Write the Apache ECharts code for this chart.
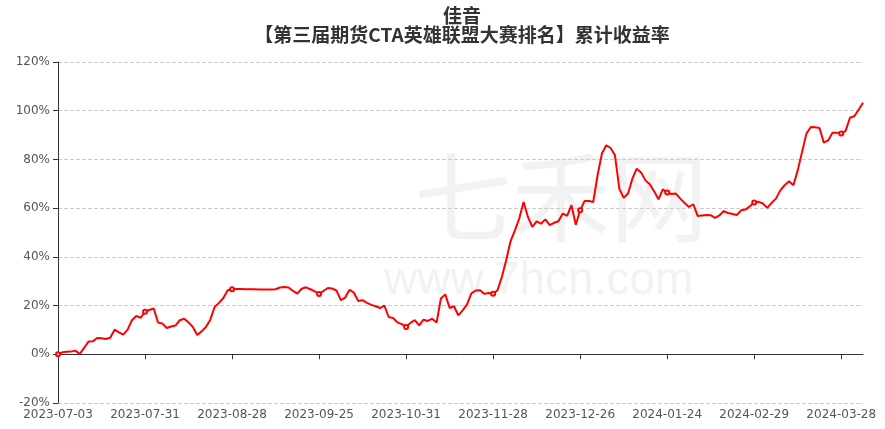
<!DOCTYPE html>
<html>
<head>
<meta charset="utf-8">
<script src="https://cdn.jsdelivr.net/npm/echarts@6/dist/echarts.min.js"></script>
<style>html,body{margin:0;padding:0;background:#fff}#c{width:885px;height:429px}</style>
</head>
<body>
<div id="c"></div>
<script>
var titleText = '佳音\n【第三届期货CTA英雄联盟大赛排名】累计收益率';
var dates = [
'2023-07-03','2023-07-04','2023-07-05','2023-07-06','2023-07-07',
'2023-07-10','2023-07-11','2023-07-12','2023-07-13','2023-07-14',
'2023-07-17','2023-07-18','2023-07-19','2023-07-20','2023-07-21',
'2023-07-24','2023-07-25','2023-07-26','2023-07-27','2023-07-28',
'2023-07-31','2023-08-01','2023-08-02','2023-08-03','2023-08-04',
'2023-08-07','2023-08-08','2023-08-09','2023-08-10','2023-08-11',
'2023-08-14','2023-08-15','2023-08-16','2023-08-17','2023-08-18',
'2023-08-21','2023-08-22','2023-08-23','2023-08-24','2023-08-25',
'2023-08-28','2023-08-29','2023-08-30','2023-08-31','2023-09-01',
'2023-09-04','2023-09-05','2023-09-06','2023-09-07','2023-09-08',
'2023-09-11','2023-09-12','2023-09-13','2023-09-14','2023-09-15',
'2023-09-18','2023-09-19','2023-09-20','2023-09-21','2023-09-22',
'2023-09-25','2023-09-26','2023-09-27','2023-09-28',
'2023-10-09','2023-10-10','2023-10-11','2023-10-12','2023-10-13',
'2023-10-16','2023-10-17','2023-10-18','2023-10-19','2023-10-20',
'2023-10-23','2023-10-24','2023-10-25','2023-10-26','2023-10-27',
'2023-10-30','2023-10-31','2023-11-01','2023-11-02','2023-11-03',
'2023-11-06','2023-11-07','2023-11-08','2023-11-09','2023-11-10',
'2023-11-13','2023-11-14','2023-11-15','2023-11-16','2023-11-17',
'2023-11-20','2023-11-21','2023-11-22','2023-11-23','2023-11-24',
'2023-11-27','2023-11-28','2023-11-29','2023-11-30','2023-12-01',
'2023-12-04','2023-12-05','2023-12-06','2023-12-07','2023-12-08',
'2023-12-11','2023-12-12','2023-12-13','2023-12-14','2023-12-15',
'2023-12-18','2023-12-19','2023-12-20','2023-12-21','2023-12-22',
'2023-12-25','2023-12-26','2023-12-27','2023-12-28','2023-12-29',
'2024-01-02','2024-01-03','2024-01-04','2024-01-05',
'2024-01-08','2024-01-09','2024-01-10','2024-01-11','2024-01-12',
'2024-01-15','2024-01-16','2024-01-17','2024-01-18','2024-01-19',
'2024-01-22','2024-01-23','2024-01-24','2024-01-25','2024-01-26',
'2024-01-29','2024-01-30','2024-01-31','2024-02-01','2024-02-02',
'2024-02-05','2024-02-06','2024-02-07','2024-02-08',
'2024-02-19','2024-02-20','2024-02-21','2024-02-22','2024-02-23',
'2024-02-26','2024-02-27','2024-02-28','2024-02-29','2024-03-01',
'2024-03-04','2024-03-05','2024-03-06','2024-03-07','2024-03-08',
'2024-03-11','2024-03-12','2024-03-13','2024-03-14','2024-03-15',
'2024-03-18','2024-03-19','2024-03-20','2024-03-21','2024-03-22',
'2024-03-25','2024-03-26','2024-03-27','2024-03-28','2024-03-29',
'2024-04-01','2024-04-02','2024-04-03','2024-04-08'
];
var returns = [
0,0.8,1.0,1.1,1.5,0.1,2.6,5.2,5.3,6.7,
6.6,6.3,6.8,10.1,9.0,8.1,10.1,14.0,15.7,15.0,
17.5,18.2,18.8,13.0,12.6,10.8,11.4,11.8,14.0,14.6,
13.1,11.2,7.9,9.4,11.2,14.2,19.4,21.1,23.1,26.3,
26.7,26.8,26.8,26.7,26.7,26.7,26.6,26.6,26.6,26.6,
26.7,27.4,27.6,27.4,26.0,24.9,26.9,27.5,26.7,25.8,
24.8,26.0,27.2,27.0,26.2,22.2,23.3,26.5,25.3,21.9,
22.2,21.1,20.3,19.7,19.0,20.0,15.3,14.9,13.1,12.4,
11.2,12.9,14.0,11.9,14.2,13.7,14.6,13.0,22.9,24.6,
19.0,19.7,16.0,18.0,20.5,25.0,26.2,26.3,24.8,25.2,
24.9,26.3,31.7,38.6,46.4,50.9,55.7,62.5,56.4,52.3,
54.6,53.6,55.4,53.0,54.0,54.6,57.8,56.8,61.2,53.2,
59.1,62.9,62.9,62.5,73.5,82.4,85.8,84.7,81.7,68.0,
64.2,66.0,72.1,76.2,74.6,71.4,69.8,66.9,63.6,67.7,
66.4,65.8,66.0,63.9,62.1,60.5,61.6,56.8,57.0,57.2,
57.1,56.0,57.0,58.8,58.0,57.6,57.2,59.1,59.4,60.8,
62.3,62.6,61.9,60.1,62.2,63.9,67.3,69.4,71.0,69.4,
75.5,83.1,90.6,93.3,93.2,92.9,86.9,87.8,91.0,91.0,
90.6,91.7,97.1,97.7,100.4,103.3
];
var yMin = -20, yMax = 120, yStep = 20;
var labelEvery = 20;

var chart = echarts.init(document.getElementById('c'), null, {renderer: 'canvas'});
chart.setOption({
  animation: false,
  backgroundColor: '#fff',
  title: {
    text: titleText,
    left: 462,
    textAlign: 'center',
    top: 6,
    padding: 0,
    textStyle: {fontSize: 19, fontWeight: 'bold', color: '#333', lineHeight: 19, fontFamily: 'Noto Sans CJK SC'}
  },
  graphic: [
    {type: 'text', left: 414, top: 148, z: -10, silent: true,
     style: {text: '七禾网', fontSize: 98, fill: '#f2f2f2', fontFamily: 'Noto Sans CJK SC'}},
    {type: 'text', left: 384, top: 258, z: -10, silent: true,
     style: {text: 'www.7hcn.com', fontSize: 46, fill: '#f2f2f2', fontFamily: 'Liberation Sans'}}
  ],
  grid: {left: 58, right: 22, top: 62, bottom: 26, containLabel: false, outerBoundsMode: 'none'},
  xAxis: {
    type: 'category',
    data: dates,
    boundaryGap: false,
    axisLine: {onZero: true, lineStyle: {color: '#333'}},
    axisTick: {show: true, interval: labelEvery - 1, lineStyle: {color: '#333'}},
    axisLabel: {interval: labelEvery - 1, margin: 6, color: '#555', fontSize: 12, fontFamily: 'DejaVu Sans'},
    splitLine: {show: false}
  },
  yAxis: {
    type: 'value',
    min: yMin, max: yMax, interval: yStep,
    axisLine: {show: true, lineStyle: {color: '#333'}},
    axisTick: {show: true, lineStyle: {color: '#333'}},
    axisLabel: {formatter: '{value}%', color: '#555', fontSize: 12, fontFamily: 'DejaVu Sans'},
    splitLine: {show: true, lineStyle: {type: 'dashed', color: '#ccc'}}
  },
  series: [{
    type: 'line',
    data: returns,
    symbol: 'emptyCircle',
    showSymbol: true,
    showAllSymbol: true,
    symbolSize: function (v, p) { return p.dataIndex % labelEvery === 0 ? 4 : 0; },
    lineStyle: {color: '#ff0000', width: 2},
    itemStyle: {color: '#ff0000', borderWidth: 1}
  }]
});
</script>
</body>
</html>
